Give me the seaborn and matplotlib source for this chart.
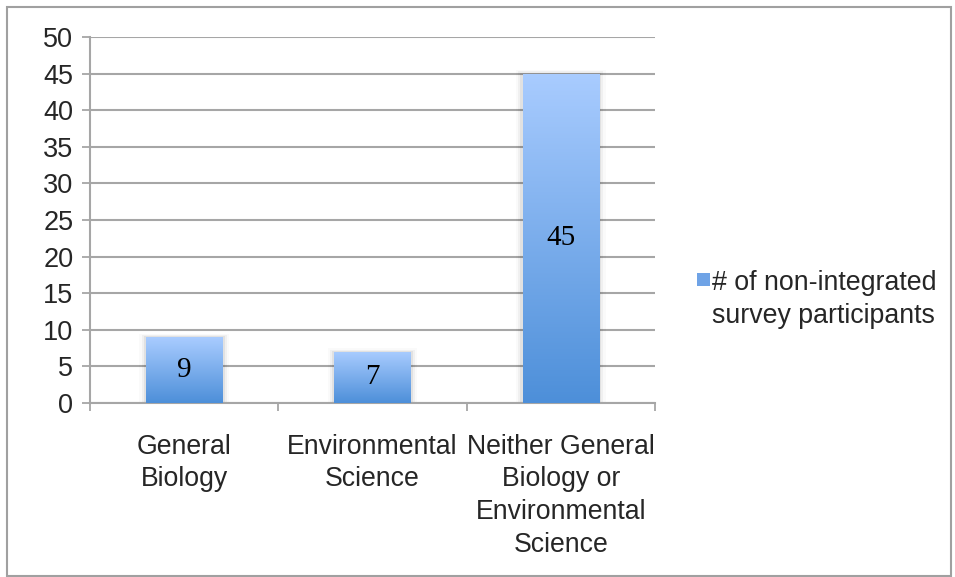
import numpy as np
import pandas as pd
import seaborn as sns
import matplotlib
matplotlib.use("Agg")
import matplotlib.pyplot as plt
from matplotlib.patches import Rectangle
from matplotlib.colors import LinearSegmentedColormap

categories = ["General\nBiology", "Environmental\nScience",
              "Neither General\nBiology or\nEnvironmental\nScience"]
values = [9, 7, 45]
series_name = "# of non-integrated\nsurvey participants"
yticks = [0, 5, 10, 15, 20, 25, 30, 35, 40, 45, 50]

sns.set_theme(style="white")
plt.rcParams['font.family'] = ['Liberation Sans', 'DejaVu Sans']

df = pd.DataFrame({"category": categories, "value": values})

fig = plt.figure(figsize=(9.55, 5.77), dpi=100)
ax = fig.add_axes([90/955, 1-403/577, 565/955, 366/577])

sns.barplot(data=df, x="category", y="value", color="#7fb0ee", width=0.405,
            ax=ax, zorder=3)

cmap = LinearSegmentedColormap.from_list("g", ["#4d8fd9", "#a9ccff"])
grad = np.linspace(0, 1, 256).reshape(-1, 1)
for p in ax.patches:
    x0, y0 = p.get_x(), p.get_y()
    w, h = p.get_width(), p.get_height()
    # subtle shadow
    for k, a in enumerate([0.06, 0.04, 0.02]):
        off = 0.012 * (k + 1)
        sh = Rectangle((x0 - off, y0), w + 2 * off, h + 0.15 * (k + 1),
                       facecolor="#000000", alpha=a, edgecolor="none", zorder=2)
        ax.add_patch(sh)
    im = ax.imshow(grad, extent=[x0, x0 + w, y0, y0 + h], origin="lower",
                   cmap=cmap, aspect="auto", zorder=3.5)
    im.set_clip_path(p)
    p.set_facecolor("none")
    p.set_edgecolor("none")
    ax.text(x0 + w / 2, y0 + h / 2, f"{int(h)}", ha="center", va="center",
            fontsize=21, family=["Liberation Serif", "DejaVu Serif"],
            color="#000000", zorder=5)

ax.set_xlim(-0.5, 2.5)
ax.set_ylim(0, 50)
ax.set_yticks(yticks)
ax.set_yticklabels([str(t) for t in yticks], fontsize=19.5)
ax.yaxis.grid(True, color="#a6a6a6", linewidth=1.5, zorder=0)
ax.set_axisbelow(True)
ax.set_xlabel("")
ax.set_ylabel("")

ax.set_xticks([0, 1, 2])
ax.set_xticklabels(categories, fontsize=19.2, linespacing=1.34)
ax.set_xticks([-0.5, 0.5, 1.5, 2.5], minor=True)
ax.tick_params(axis="x", which="major", length=0, pad=22)
ax.tick_params(axis="x", which="minor", length=6, width=1.3, color="#a6a6a6",
               direction="out", bottom=True)
ax.tick_params(axis="y", length=6, width=1.3, color="#a6a6a6", direction="out",
               left=True, pad=6)
for s in ["top", "right"]:
    ax.spines[s].set_visible(False)
for s in ["left", "bottom"]:
    ax.spines[s].set_color("#a6a6a6")
    ax.spines[s].set_linewidth(1.5)
for lbl in ax.get_xticklabels():
    lbl.set_verticalalignment("top")

# legend
fig.patches.append(Rectangle((697/955, 1-286/577), 13/955, 13/577,
                             transform=fig.transFigure,
                             facecolor="#6fa3e6", edgecolor="none"))
fig.text(712/955, 1-270/577, series_name, fontsize=19.3, va="top", ha="left",
         linespacing=1.33)

# outer border
fig.patches.append(Rectangle((7/955, 1/577), 944/955, 569/577,
                             transform=fig.transFigure, facecolor="none",
                             edgecolor="#a0a0a0", linewidth=1.5))

fig.savefig("out.png", dpi=100)
